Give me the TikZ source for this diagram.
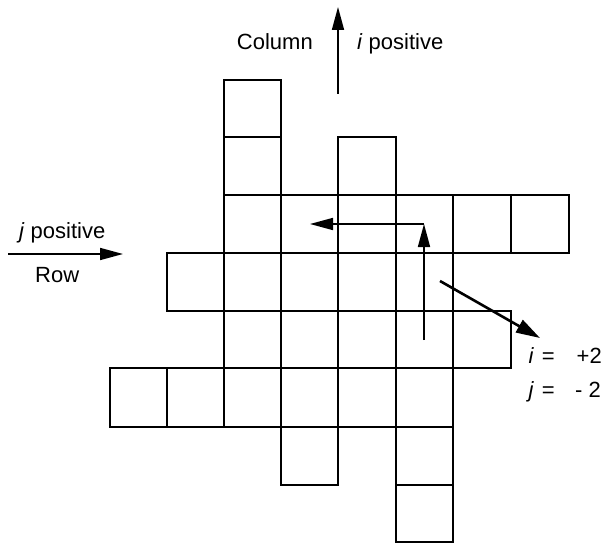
\documentclass[tikz,border=0pt]{standalone}
\usepackage{fontspec}
\setmainfont{Liberation Sans}
\usetikzlibrary{arrows.meta}
\tikzset{
  cellline/.style={draw, line width=1.8pt, line join=miter},
  arr/.style={line width=1.7pt, -{Triangle[length=23pt,width=12pt]}},
  thickarr/.style={line width=2.6pt, -{Triangle[length=24pt,width=14pt]}},
  lbl/.style={inner sep=0pt, font=\fontsize{22}{26}\selectfont},
}
\begin{document}
\begin{tikzpicture}[x=1pt,y=-1pt]
\useasboundingbox (0,0) rectangle (603,543);
\def\xs{{110,167,224,281,338,396,453,511,569}}
\def\ys{{80,137,195,253,311,368,427,485,542}}
% grid cells: row r, column c
\foreach \r/\c in {0/2, 1/2, 1/4,
  2/2, 2/3, 2/4, 2/5, 2/6, 2/7,
  3/1, 3/2, 3/3, 3/4, 3/5,
  4/2, 4/3, 4/4, 4/5, 4/6,
  5/0, 5/1, 5/2, 5/3, 5/4, 5/5,
  6/3, 6/5, 7/5}{
  \pgfmathsetmacro\xa{\xs[\c]}
  \pgfmathsetmacro\xb{\xs[\c+1]}
  \pgfmathsetmacro\ya{\ys[\r]}
  \pgfmathsetmacro\yb{\ys[\r+1]}
  \draw[cellline] (\xa,\ya) rectangle (\xb,\yb);
}
% labels
\node[lbl, anchor=base east] (column) at (313,50) {Column};
\node[lbl, anchor=base west] (ipos) at (357,50) {\textit{i} positive};
\node[lbl, anchor=base west] (jpos) at (19,238) {\textit{j} positive};
\node[lbl, anchor=base west] (row) at (35,282) {Row};
\node[lbl, anchor=base east] (ieq) at (555,363) {\textit{i}\hspace{8pt}=};
\node[lbl, anchor=base east] (ival) at (602,363) {+2};
\node[lbl, anchor=base east] (jeq) at (555,397) {\textit{j}\hspace{8pt}=};
\node[lbl, anchor=base east] (jval) at (601,397) {- 2};
% arrow end points
\coordinate (colS) at (338,94);
\coordinate (colE) at (338,7);
\coordinate (rowS) at (8,254);
\coordinate (rowE) at (123,254);
\coordinate (upS) at (424,340);
\coordinate (corner) at (424,224);
\coordinate (leftE) at (310,224);
\coordinate (diagS) at (440,281);
\coordinate (diagE) at (540,338);
\draw[arr] (colS) -- (colE);
\draw[arr] (rowS) -- (rowE);
\draw[arr] (upS) -- (corner);
\draw[arr] (corner) -- (leftE);
\draw[thickarr] (diagS) -- (diagE);
\end{tikzpicture}
\end{document}
